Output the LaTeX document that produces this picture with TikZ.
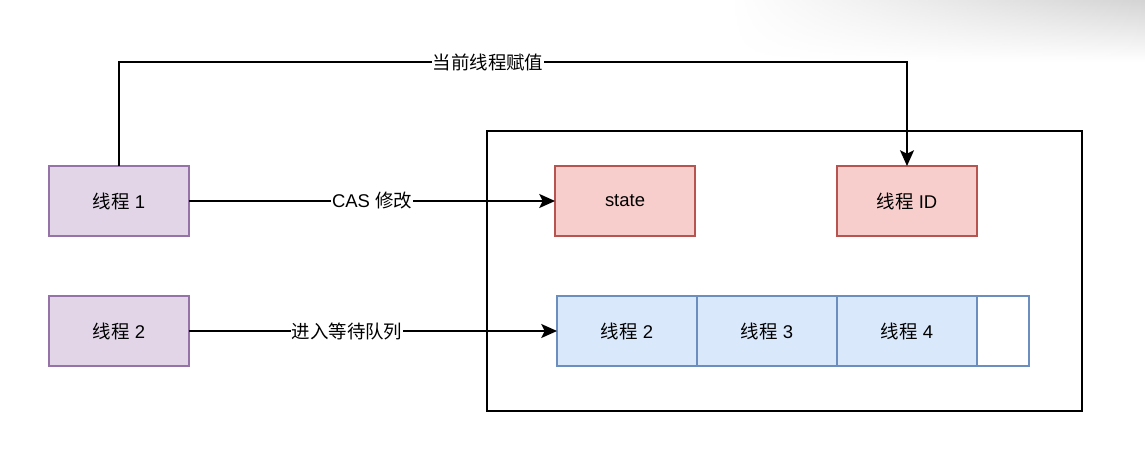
\documentclass[tikz,border=0pt]{standalone}
\usepackage{fontspec}
\setmainfont{Liberation Sans}
\newfontfamily\cjk{Noto Sans CJK SC}
\usepackage{tikz}
\usetikzlibrary{arrows.meta, positioning, fadings}

\definecolor{purplefill}{HTML}{E1D5E7}
\definecolor{purpleline}{HTML}{9673A6}
\definecolor{redfill}{HTML}{F8CECC}
\definecolor{redline}{HTML}{B85450}
\definecolor{bluefill}{HTML}{DAE8FC}
\definecolor{blueline}{HTML}{6C8EBF}

\tikzset{
  box/.style={draw, line width=0.9pt, outer sep=0pt, minimum width=2.8cm, minimum height=1.4cm, inner sep=0pt, font=\fontsize{10.5}{12}\selectfont},
  thread/.style={box, fill=purplefill, draw=purpleline},
  field/.style={box, fill=redfill, draw=redline},
  cell/.style={box, fill=bluefill, draw=blueline},
  arr/.style={line width=1pt, -{Stealth[length=9pt, width=8pt, inset=2pt]}},
  lbl/.style={fill=white, inner sep=0.5pt, font=\fontsize{10.5}{12}\selectfont}
}

\begin{document}
\begin{tikzpicture}[x=0.02cm, y=-0.02cm]

\useasboundingbox (0,0) rectangle (1145,470);

% screenshot shadow
\shade[top color=black!17, bottom color=white, path fading=west] (730,0) rectangle (1145,62);

\node[draw, line width=1pt, minimum width=11.9cm, minimum height=5.6cm] (outer) at (784.5,271) {};

\node[thread] (t1) at (119,201) {{\cjk 线程} 1};
\node[thread] (t2) at (119,331) {{\cjk 线程} 2};

\node[field] (state) at (625,201) {state};
\node[field] (tid) at (907,201) {{\cjk 线程} ID};

\node[cell] (q2) at (627,331) {{\cjk 线程} 2};
\node[cell, right=0pt of q2] (q3) {{\cjk 线程} 3};
\node[cell, right=0pt of q3] (q4) {{\cjk 线程} 4};
\node[box, draw=blueline, minimum width=1.04cm, right=0pt of q4] (qe) {};

\coordinate (top) at (488,62);
\draw[arr] (t1.north) |- (top) -| (tid.north);
\node[lbl] at (top) {\cjk 当前线程赋值};

\draw[arr] (t1) -- node[lbl] {CAS {\cjk 修改}} (state);
\draw[arr] (t2) -- node[lbl, xshift=-0.52cm] {\cjk 进入等待队列} (q2);

\end{tikzpicture}
\end{document}
